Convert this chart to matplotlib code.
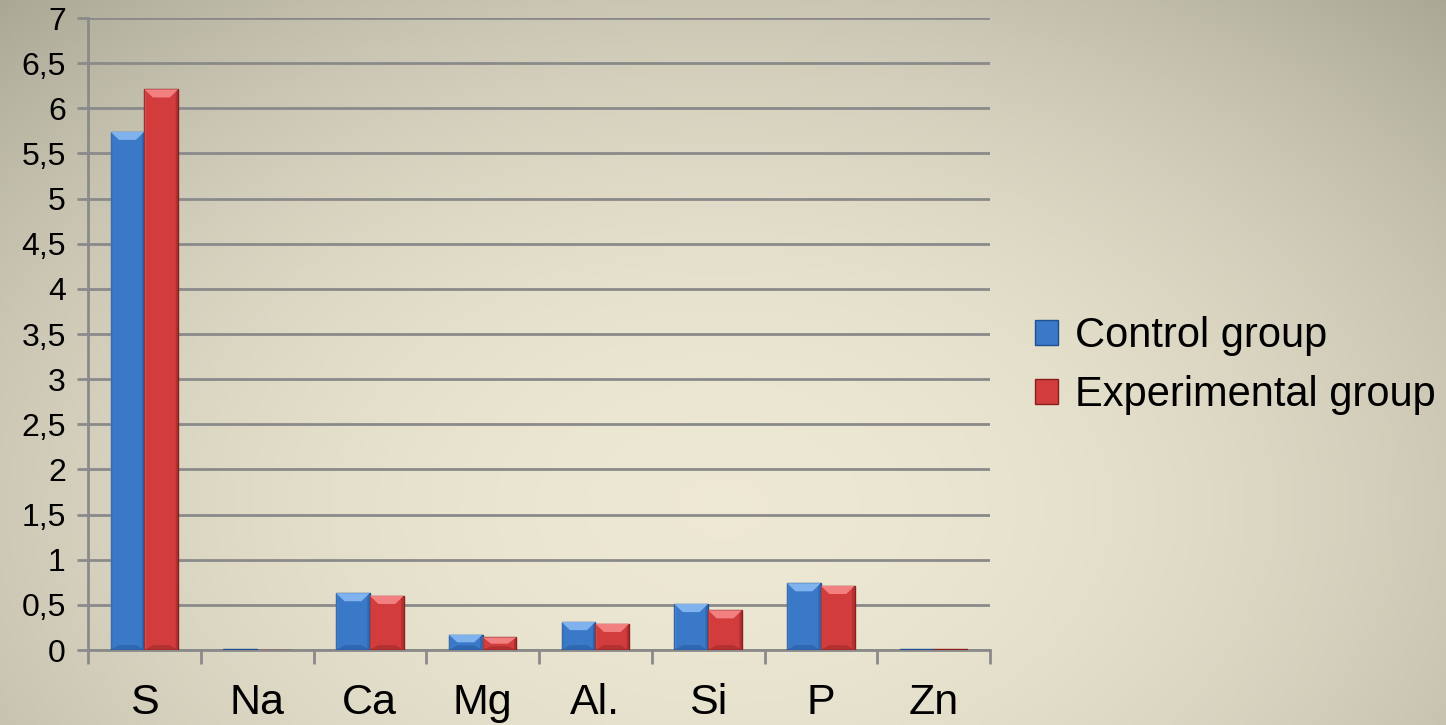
import numpy as np
import matplotlib.pyplot as plt
from matplotlib.patches import Polygon

plt.rcParams['font.family'] = ['Liberation Sans', 'DejaVu Sans']

elements = ['S', 'Na', 'Ca', 'Mg', 'Al.', 'Si', 'P', 'Zn']
control = [5.74, 0.01, 0.63, 0.17, 0.31, 0.51, 0.74, 0.01]
experimental = [6.21, 0.0, 0.60, 0.14, 0.29, 0.44, 0.71, 0.01]
yticks = np.arange(0, 7.01, 0.5)

fig = plt.figure(figsize=(14.46, 7.25), dpi=100)

# background: light beige low in the middle, greyer towards the edges
bg = fig.add_axes([0, 0, 1, 1], zorder=-10)
gx, gy = np.meshgrid(np.linspace(0, 1, 400), np.linspace(0, 1, 200))
r = np.sqrt(((gx - 0.5) / 0.75) ** 2 + ((gy - 0.3) / 1.0) ** 2)
r = np.clip(r, 0, 1)
c0 = np.array([0.93, 0.91, 0.83])
c1 = np.array([0.65, 0.64, 0.57])
img = c0[None, None, :] * (1 - r[..., None] ** 2) + c1[None, None, :] * r[..., None] ** 2
bg.imshow(img, extent=[0, 1, 0, 1], aspect='auto', origin='lower')
bg.axis('off')

ax = fig.add_axes([88 / 1446, 75 / 725, 902 / 1446, 632 / 725])
ax.patch.set_alpha(0)

x = np.arange(len(elements))
w = 0.3
b1 = ax.bar(x - w / 2, control, w, color='#3a78c8', edgecolor='#1f4f8f', linewidth=1, zorder=3)
b2 = ax.bar(x + w / 2, experimental, w, color='#d23c3c', edgecolor='#8a1f1f', linewidth=1, zorder=3)


def bevel(bars, light, dark):
    # lighter slanted top face and darker lower / right faces
    for p in bars:
        x0, y0 = p.get_x(), p.get_y()
        bw, bh = p.get_width(), p.get_height()
        if bh <= 0.02:
            continue
        d = bw * 0.25
        dy = min(0.09, bh / 2)
        top = Polygon([[x0, y0 + bh], [x0 + bw, y0 + bh], [x0 + bw - d, y0 + bh - dy], [x0 + d, y0 + bh - dy]],
                      closed=True, facecolor=light, edgecolor='none', zorder=4)
        ax.add_patch(top)
        bot = Polygon([[x0, y0], [x0 + bw, y0], [x0 + bw - d, y0 + dy * 0.6], [x0 + d, y0 + dy * 0.6]],
                      closed=True, facecolor=dark, edgecolor='none', alpha=0.35, zorder=4)
        ax.add_patch(bot)
        side = Polygon([[x0 + bw, y0], [x0 + bw, y0 + bh], [x0 + bw - d * 0.3, y0 + bh - dy * 0.3],
                        [x0 + bw - d * 0.3, y0 + dy * 0.2]],
                       closed=True, facecolor=dark, edgecolor='none', alpha=0.35, zorder=4)
        ax.add_patch(side)
        lside = Polygon([[x0, y0], [x0, y0 + bh], [x0 + d * 0.2, y0 + bh - dy * 0.2],
                         [x0 + d * 0.2, y0 + dy * 0.2]],
                        closed=True, facecolor=light, edgecolor='none', alpha=0.3, zorder=4)
        ax.add_patch(lside)


bevel(b1, '#80b2ee', '#1c4a86')
bevel(b2, '#f28080', '#7a1c1c')

ax.set_xlim(-0.5, len(elements) - 0.5)
ax.set_ylim(0, 7)
ax.set_yticks(yticks)
ax.set_yticklabels([('%g' % v).replace('.', ',') for v in yticks], fontsize=23)
ax.yaxis.grid(True, color='#8a8a8a', linewidth=2)
ax.set_axisbelow(True)

ax.set_xticks(x)
ax.set_xticklabels(elements, fontsize=31)
ax.set_xticks(np.arange(-0.5, len(elements)), minor=True)
ax.tick_params(axis='x', which='major', length=0, pad=24)
ax.tick_params(axis='x', which='minor', length=10, width=2, color='#8a8a8a')
ax.tick_params(axis='y', length=8, width=2, color='#8a8a8a', pad=8)

for s in ['top', 'right']:
    ax.spines[s].set_visible(False)
ax.spines['left'].set_color('#8a8a8a')
ax.spines['left'].set_linewidth(2)
ax.spines['bottom'].set_color('#8a8a8a')
ax.spines['bottom'].set_linewidth(2)

ax.legend([b1, b2], ['Control group', 'Experimental group'], loc='center left',
          bbox_to_anchor=(1.05, 0.45), frameon=False, fontsize=30, borderaxespad=0, borderpad=0,
          handlelength=0.55, handleheight=0.55, handletextpad=0.4, labelspacing=0.45)

fig.savefig('out.png', dpi=100)
